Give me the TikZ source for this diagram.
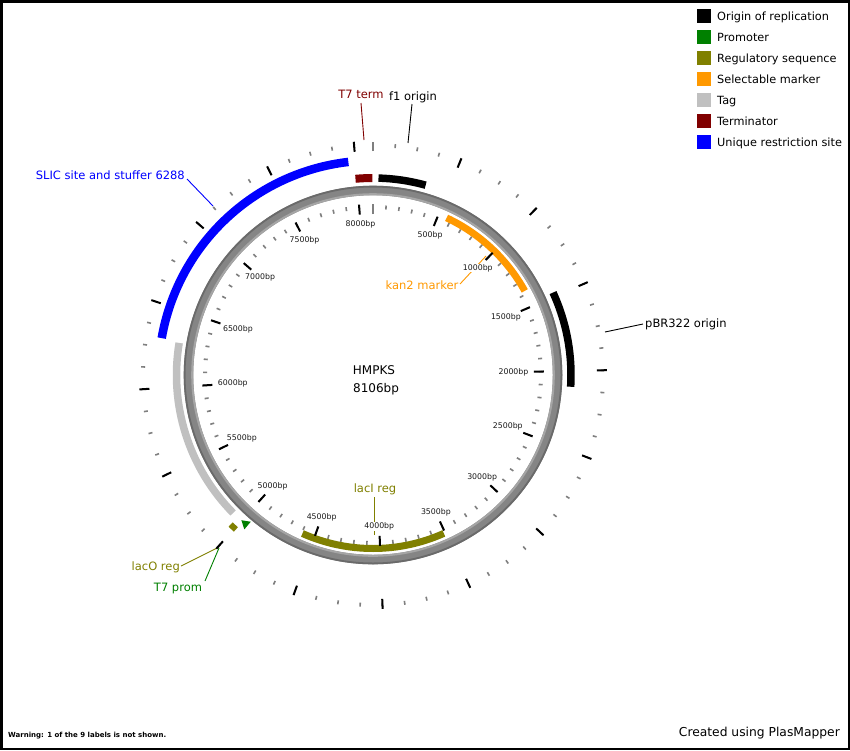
\documentclass[tikz,border=0pt]{standalone}
\usepackage{fontspec}
\setmainfont{DejaVu Sans}
\definecolor{ori}{HTML}{000000}
\definecolor{prom}{HTML}{008000}
\definecolor{reg}{HTML}{808000}
\definecolor{sel}{HTML}{FF9900}
\definecolor{tagc}{HTML}{C0C0C0}
\definecolor{term}{HTML}{800000}
\definecolor{site}{HTML}{0000FF}
\definecolor{ringc}{HTML}{858585}
\definecolor{ringhi}{HTML}{A5A5A5}
\definecolor{ringlo}{HTML}{6A6A6A}
\definecolor{tickg}{HTML}{7F7F7F}
\begin{document}
\begin{tikzpicture}[x=1pt,y=-1pt,
  lbl/.style={font=\fontsize{11.5}{13}\selectfont, inner sep=0pt},
  bplbl/.style={font=\fontsize{7.8}{9}\selectfont, inner sep=0.4pt, fill=white, text=black!90},
  mintick/.style={draw=tickg, line width=1.6},
  majtick/.style={draw=black, line width=2},
  lead/.style={line width=0.9},
  legsq/.style={minimum size=14pt, inner sep=0pt, draw=none},
  legtxt/.style={font=\fontsize{11.3}{13}\selectfont, inner sep=0pt, anchor=base west}]
\useasboundingbox (0,0) rectangle (850,750);
\fill[white] (0,0) rectangle (850,750);
\draw[black, line width=2.5] (1.25,1.25) rectangle (848.75,748.75);

% leader end points
\coordinate (t7tA) at (364,140); \coordinate (t7tB) at (361,103);
\coordinate (f1A) at (408,143);  \coordinate (f1B) at (412,104);
\coordinate (slA) at (213,206);  \coordinate (slB) at (187,179);
\coordinate (knA) at (486,256);  \coordinate (knB) at (460,284);
\coordinate (pbA) at (605,332);  \coordinate (pbB) at (643,324);
\coordinate (liA) at (374,535);  \coordinate (liB) at (374,497);
\coordinate (loA) at (219,547);  \coordinate (loB) at (181,566);
\coordinate (tpA) at (219,548);  \coordinate (tpB) at (205,581);

% leaders (drawn first, scale labels sit on top)
\draw[lead, term] (t7tA) -- (t7tB);
\draw[lead, black] (f1A) -- (f1B);
\draw[lead, site] (slA) -- (slB);
\draw[lead, sel] (knA) -- (knB);
\draw[lead, black] (pbA) -- (pbB);
\draw[lead, reg] (liA) -- (liB);
\draw[lead, reg] (loA) -- (loB);
\draw[lead, prom] (tpA) -- (tpB);

\begin{scope}[shift={(373,375)}]
  % backbone ring
  \draw[ringc, line width=9.5] (0,0) circle[radius=184.5];
  \draw[ringlo, line width=1.8] (0,0) circle[radius=188.4];
  \draw[ringhi, line width=2] (0,0) circle[radius=180.8];
  % inner scale
  \foreach \b in {100,200,...,8000}{
    \pgfmathsetmacro\a{\b/8106*360-90}
    \draw[mintick] (\a:166) -- (\a:170);
  }
  \draw[mintick] (-90:161) -- (-90:171);
  % outer scale
  \foreach \b in {125,250,...,8000}{
    \pgfmathsetmacro\a{\b/8106*360-90}
    \draw[mintick] (\a:228) -- (\a:232);
  }
  \draw[mintick] (-90:224) -- (-90:233);
  \foreach \b in {500,1000,...,8000}{
    \pgfmathsetmacro\a{\b/8106*360-90}
    \draw[majtick] (\a:224) -- (\a:234);
  }
  % features
  \draw[site, line width=8.5] (189.9:214.5) arc[start angle=189.9, end angle=263.4, radius=214.5];
  \draw[tagc, line width=7.5] (135.4:196.5) arc[start angle=135.4, end angle=189.4, radius=196.5];
  \draw[term, line width=8] (264.9:197) arc[start angle=264.9, end angle=269.8, radius=197];
  \draw[ori, line width=7.5] (-88.4:197) arc[start angle=-88.4, end angle=-74.5, radius=197];
  \draw[ori, line width=7.5] (-24.6:198) arc[start angle=-24.6, end angle=3.4, radius=198];
  \draw[sel, line width=7] (-64.9:173.5) arc[start angle=-64.9, end angle=-29, radius=173.5];
  \draw[reg, line width=7] (65.9:173.5) arc[start angle=65.9, end angle=114, radius=173.5];
  \draw[reg, line width=6] (131.6:206.5) arc[start angle=131.6, end angle=133.6, radius=206.5];
  \fill[prom] (129.8:191) -- (129.8:201) -- (132.2:196) -- cycle;
  % inner major ticks + labels
  \foreach \b in {500,1000,...,8000}{
    \pgfmathsetmacro\a{\b/8106*360-90}
    \pgfmathsetmacro\anc{mod(360-\a,360)}
    \draw[majtick] (\a:161) -- (\a:171);
    \node[bplbl, anchor=\anc] (bp\b) at (\a:156) {\b bp};
  }
\end{scope}

% centre title
\node[font=\fontsize{12}{14}\selectfont, anchor=base, inner sep=0pt] (title) at (374,374.4) {HMPKS};
\node[font=\fontsize{12}{14}\selectfont, anchor=base, inner sep=0pt] (size) at (376,392.4) {8106bp};

% feature labels
\node[lbl, text=term, anchor=base] (t7tL) at (361,98.2) {T7 term};
\node[lbl, anchor=base] (f1L) at (413,100.2) {f1 origin};
\node[lbl, text=site, anchor=base east] (slL) at (185,179.2) {SLIC site and stuffer 6288};
\node[lbl, text=sel, anchor=base] (knL) at (422,289.2) {kan2 marker};
\node[lbl, anchor=base west] (pbL) at (645,327.2) {pBR322 origin};
\node[lbl, text=reg, anchor=base] (liL) at (375,492.2) {lacI reg};
\node[lbl, text=reg, anchor=base east] (loL) at (180,570.2) {lacO reg};
\node[lbl, text=prom, anchor=base] (tpL) at (178,591.2) {T7 prom};

% legend
\foreach \c/\t [count=\i from 0] in {ori/Origin of replication, prom/Promoter, reg/Regulatory sequence, sel/Selectable marker, tagc/Tag, term/Terminator, site/Unique restriction site}{
  \node[legsq, fill=\c] (sq\i) at (704,{16+21*\i}) {};
  \node[legtxt] (lt\i) at (717,{20.1+21*\i}) {\t};
}

% footers
\node[font=\fontsize{12.3}{14}\selectfont, anchor=base east, inner sep=0pt] (credit) at (840,736.5) {Created using PlasMapper};
\node[font=\bfseries\fontsize{7}{8}\selectfont, anchor=base west, inner sep=0pt] (warn) at (8,737.5) {Warning: 1 of the 9 labels is not shown.};
\end{tikzpicture}
\end{document}
